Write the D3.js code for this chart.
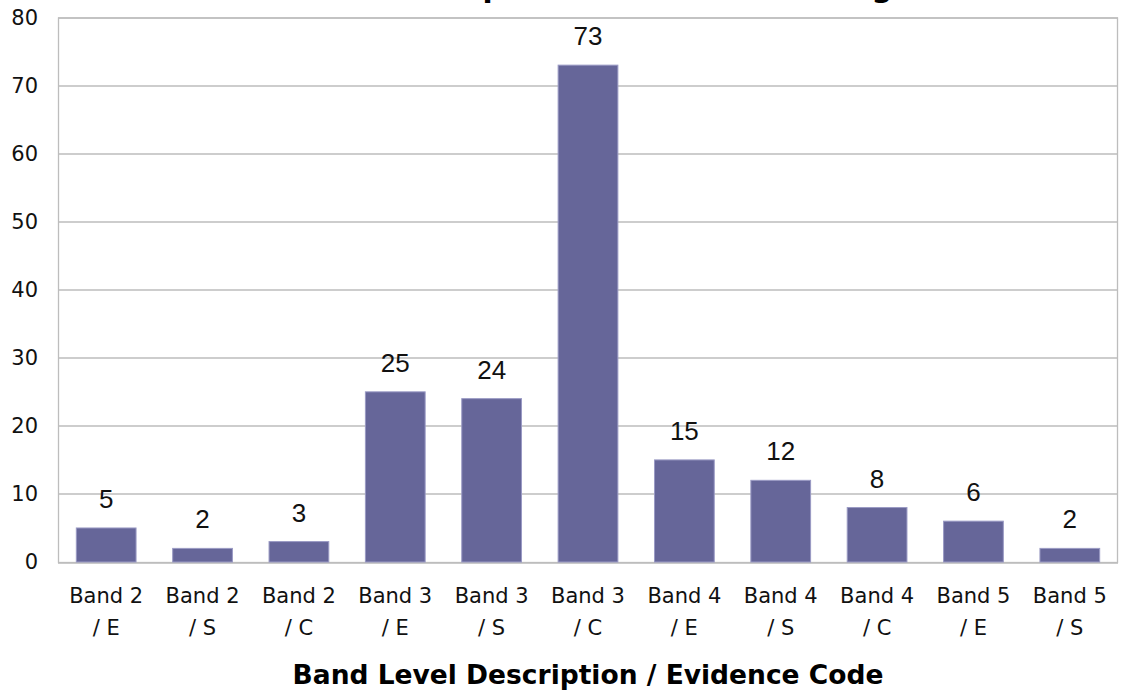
<!DOCTYPE html>
<html>
<head>
<meta charset="utf-8">
<script src="https://cdn.jsdelivr.net/npm/d3@7"></script>
<style>
  html, body { margin: 0; padding: 0; background: #ffffff; }
  svg { display: block; }
</style>
</head>
<body>
<svg id="chart" width="1123" height="692"></svg>
<script>
// Count of descriptions for each band level / evidence code pair
const bandLines = ["Band 2", "Band 2", "Band 2", "Band 3", "Band 3", "Band 3",
                   "Band 4", "Band 4", "Band 4", "Band 5", "Band 5"];
const codeLines = ["/ E", "/ S", "/ C", "/ E", "/ S", "/ C",
                   "/ E", "/ S", "/ C", "/ E", "/ S"];
const counts = [5, 2, 3, 25, 24, 73, 15, 12, 8, 6, 2];
const yTicks = [0, 10, 20, 30, 40, 50, 60, 70, 80];
const chartTitle = "Band Level Descriptions / Evidence Coding";
const xTitle = "Band Level Description / Evidence Code";

const categories = bandLines.map((b, i) => b + " " + codeLines[i]);

const svg = d3.select("#chart");
const margin = { left: 58, right: 5, top: 17.5, bottom: 130 };
const W = 1123, H = 692;
const plotW = W - margin.left - margin.right;
const plotH = H - margin.top - margin.bottom;

const g = svg.append("g").attr("transform", `translate(${margin.left},${margin.top})`);

const x = d3.scaleBand().domain(categories).range([0, plotW]).paddingInner(0.38).paddingOuter(0.19);
const y = d3.scaleLinear().domain([0, 80]).range([plotH, 0]);

// Title, sitting above the top edge of the page
svg.append("text")
  .attr("x", 185).attr("y", -3)
  .attr("font-family", "DejaVu Sans")
  .attr("font-weight", "bold")
  .attr("font-size", 29.5)
  .attr("fill", "#000")
  .text(chartTitle);

// Horizontal gridlines
g.append("g")
  .selectAll("line")
  .data(yTicks)
  .join("line")
  .attr("x1", 0).attr("x2", plotW)
  .attr("y1", d => Math.round(y(d)) + 0.5).attr("y2", d => Math.round(y(d)) + 0.5)
  .attr("stroke", "#bdbdbd").attr("stroke-width", 1.3);

// Plot frame
g.append("rect")
  .attr("x", 0.5).attr("y", 0.5)
  .attr("width", plotW - 1).attr("height", plotH)
  .attr("fill", "none").attr("stroke", "#bdbdbd").attr("stroke-width", 1.3);

// Y axis labels
const yAxis = d3.axisLeft(y).tickValues(yTicks).tickSize(0).tickPadding(20);
g.append("g").call(yAxis)
  .call(s => s.select(".domain").remove())
  .selectAll("text")
  .attr("font-family", "DejaVu Sans")
  .attr("font-size", 21)
  .attr("fill", "#111");

// Bars
g.append("g")
  .selectAll("rect")
  .data(counts)
  .join("rect")
  .attr("x", (d, i) => x(categories[i]))
  .attr("y", d => y(d))
  .attr("width", x.bandwidth())
  .attr("height", d => y(0) - y(d))
  .attr("fill", "#666699")
  .attr("stroke", "#9a9ac4")
  .attr("stroke-width", 1);

// Value labels
g.append("g")
  .selectAll("text")
  .data(counts)
  .join("text")
  .attr("x", (d, i) => x(categories[i]) + x.bandwidth() / 2)
  .attr("y", d => y(d) - 20)
  .attr("text-anchor", "middle")
  .attr("font-family", "Liberation Sans, Arial, sans-serif")
  .attr("font-size", 26)
  .attr("fill", "#111")
  .text(d => d);

// Category labels on two lines
const xLabels = g.append("g")
  .selectAll("text")
  .data(categories)
  .join("text")
  .attr("x", d => x(d) + x.bandwidth() / 2)
  .attr("y", 603 - margin.top)
  .attr("text-anchor", "middle")
  .attr("font-family", "DejaVu Sans")
  .attr("font-size", 21)
  .attr("fill", "#111");
xLabels.append("tspan").attr("x", d => x(d) + x.bandwidth() / 2).text((d, i) => bandLines[i]);
xLabels.append("tspan").attr("x", d => x(d) + x.bandwidth() / 2).attr("dy", 32).text((d, i) => codeLines[i]);

// X axis title
svg.append("text")
  .attr("x", margin.left + plotW / 2)
  .attr("y", 684)
  .attr("text-anchor", "middle")
  .attr("font-family", "DejaVu Sans")
  .attr("font-weight", "bold")
  .attr("font-size", 26.5)
  .attr("fill", "#000")
  .text(xTitle);
</script>
</body>
</html>
